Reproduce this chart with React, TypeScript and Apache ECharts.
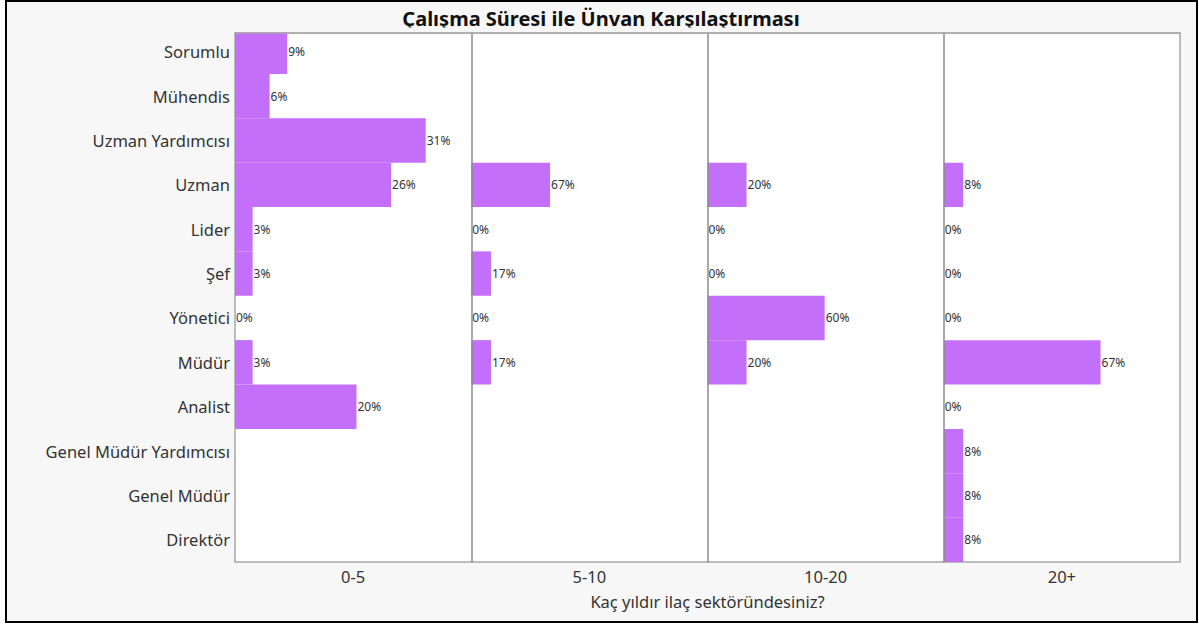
import React, { useEffect, useRef } from "react";
import * as echarts from "echarts";

const title = "Çalışma Süresi ile Ünvan Karşılaştırması";
const axisTitle = "Kaç yıldır ilaç sektöründesiniz?";
const categories = [
  "Sorumlu",
  "Mühendis",
  "Uzman Yardımcısı",
  "Uzman",
  "Lider",
  "Şef",
  "Yönetici",
  "Müdür",
  "Analist",
  "Genel Müdür Yardımcısı",
  "Genel Müdür",
  "Direktör",
];
const panels = ["0-5", "5-10", "10-20", "20+"];
// percentage values per panel (null = no data)
const pct0to5 = [8.6, 5.7, 31.4, 25.7, 2.9, 2.9, 0, 2.9, 20, null, null, null];
const pct5to10 = [null, null, null, 66.7, 0, 16.7, 0, 16.7, null, null, null, null];
const pct10to20 = [null, null, null, 20, 0, 0, 60, 20, null, null, null, null];
const pct20plus = [null, null, null, 8.3, 0, 0, 0, 66.7, 0, 8.3, 8.3, 8.3];
const panelSeries = [pct0to5, pct5to10, pct10to20, pct20plus];
// each panel has its own value scale
const panelAxisMax = [38.9, 200, 121, 100.5];

const FONT = "'Noto Sans', 'Open Sans', sans-serif";

export default function App() {
  const ref = useRef<HTMLDivElement>(null);
  useEffect(() => {
    if (!ref.current) return;
    const chart = echarts.init(ref.current, null, { renderer: "svg" });
    const plotLeft = 235;
    const frameTop = 33;
    const rowsTop = 29.5;
    const plotBottom = 562;
    const plotW = 945;
    const pw = plotW / panels.length;

    const grids: any[] = panels.map((_, i) => ({
      left: plotLeft + i * pw,
      top: rowsTop,
      width: pw,
      height: plotBottom - rowsTop,
      containLabel: false,
    }));
    grids.push({
      left: plotLeft,
      top: frameTop,
      width: plotW,
      height: plotBottom - frameTop,
      show: true,
      backgroundColor: "#ffffff",
      borderColor: "#a8a8a8",
      borderWidth: 1.5,
      z: -1,
    });

    const xAxes: any[] = panels.map((_, i) => ({
      type: "value",
      gridIndex: i,
      min: 0,
      max: panelAxisMax[i],
      show: false,
    }));
    xAxes.push({
      type: "category",
      gridIndex: panels.length,
      data: panels,
      position: "bottom",
      axisLine: { show: false },
      axisTick: { show: false },
      splitLine: { show: false },
      axisLabel: { fontSize: 16.5, color: "#333", margin: 6, fontFamily: FONT },
      name: axisTitle,
      nameLocation: "middle",
      nameGap: 31,
      nameTextStyle: { fontSize: 16.5, color: "#333", fontFamily: FONT },
    });

    const yAxes: any[] = panels.map((_, i) => ({
      type: "category",
      gridIndex: i,
      data: categories,
      inverse: true,
      z: 5,
      axisTick: { show: false },
      axisLine: {
        show: i > 0,
        lineStyle: { color: "#8c8c8c", width: 1.5 },
      },
      axisLabel: {
        show: i === 0,
        fontSize: 16.5,
        color: "#333",
        margin: 5,
        fontFamily: FONT,
      },
      splitLine: { show: false },
    }));
    yAxes.push({ type: "value", gridIndex: panels.length, show: false });

    const series: any[] = panelSeries.map((data, i) => ({
      type: "bar",
      xAxisIndex: i,
      yAxisIndex: i,
      data,
      barCategoryGap: "0%",
      itemStyle: { color: "#C46FFA", borderWidth: 0 },
      label: {
        show: true,
        position: "right",
        distance: 1,
        fontSize: 12,
        color: "#333",
        fontFamily: FONT,
        formatter: (p: any) => `${Math.round(p.value)}%`,
      },
    }));

    chart.setOption({
      animation: false,
      backgroundColor: "#ffffff",
      graphic: [
        {
          type: "rect",
          z: -10,
          shape: { x: 6, y: 1, width: 1191, height: 621 },
          style: { fill: "#f7f7f7", stroke: "#000", lineWidth: 2 },
          silent: true,
        },
        {
          type: "rect",
          z: 100,
          shape: { x: plotLeft - 2, y: rowsTop - 2, width: plotW + 4, height: frameTop - rowsTop + 1.25 },
          style: { fill: "#f7f7f7" },
          silent: true,
        },
        {
          type: "line",
          z: 101,
          shape: { x1: plotLeft - 0.75, y1: frameTop, x2: plotLeft + plotW + 0.75, y2: frameTop },
          style: { stroke: "#a8a8a8", lineWidth: 1.5 },
          silent: true,
        },
      ],
      title: {
        text: title,
        left: 596,
        textAlign: "center",
        top: 3,
        textStyle: { fontSize: 20, fontWeight: "bold", color: "#111", fontFamily: FONT },
      },
      grid: grids,
      xAxis: xAxes,
      yAxis: yAxes,
      series,
    });
    return () => chart.dispose();
  }, []);
  return (
    <div
      ref={ref}
      style={{ position: "fixed", left: 0, top: 0, width: 1199, height: 625 }}
    />
  );
}
